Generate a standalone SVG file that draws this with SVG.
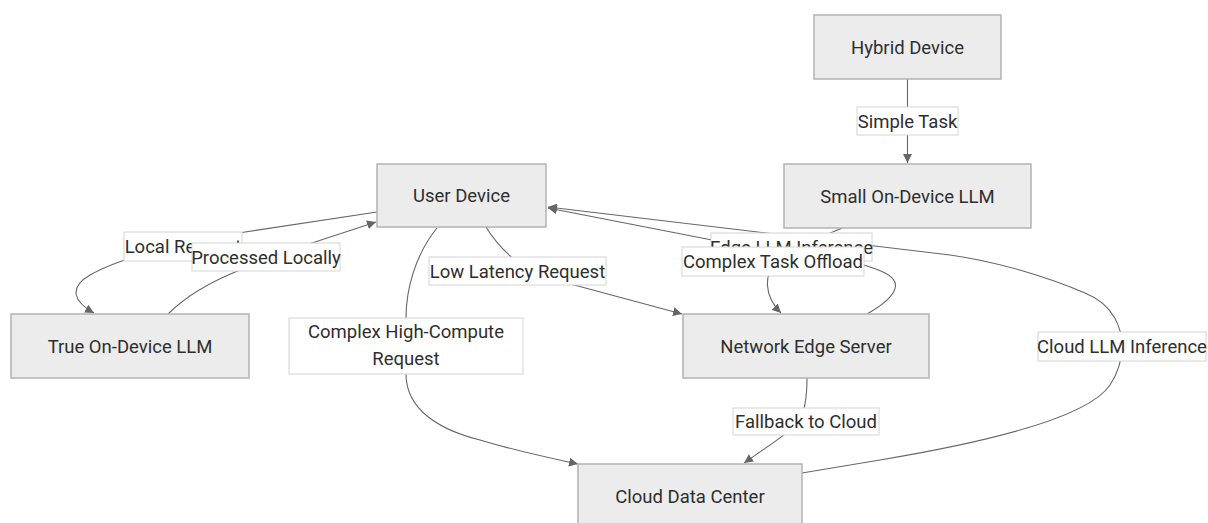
<svg xmlns="http://www.w3.org/2000/svg" width="1208" height="523" viewBox="0 0 1208 523">
<defs>
<style>
.node rect{fill:#ececec;stroke:#b3b3b3;stroke-width:1.5}
.node text,.lbl text{font-family:Roboto,"Liberation Sans",sans-serif;font-size:18.5px;fill:#2e2e2e;text-anchor:middle}
.edge{fill:none;stroke:#666;stroke-width:1.1;marker-end:url(#arr)}
.lbl rect{fill:#fff;stroke:#d4d4d4;stroke-width:1}
</style>
<marker id="arr" viewBox="0 0 10 10" refX="10" refY="5" markerWidth="9" markerHeight="9" markerUnits="userSpaceOnUse" orient="auto">
<path d="M0,0 L10,5 L0,10 z" fill="#666"/>
</marker>
</defs>
<rect width="1208" height="523" fill="#fff"/>
<g id="connectors">
<path class="edge" d="M907.5,79 L907.5,163"/>
<path class="edge" d="M377,212 L245,232 C180,242 120,258 90,275 C68,288 74,302 94,313"/>
<path class="edge" d="M168,314 C185,297 210,282 240,270 C265,260 290,250 315,242 L376,222"/>
<path class="edge" d="M486,227 C495,242 505,252 517,262 C530,272 550,280 578,286 L682,314"/>
<path class="edge" d="M842,228 C820,238 790,248 775,262 C765,275 763,295 781,313"/>
<path class="edge" d="M867,314 C895,298 905,283 885,273 C860,260 800,250 712,240 L548,208"/>
<path class="edge" d="M802,473 L880,460 C1000,440 1090,415 1110,385 C1120,370 1122,355 1122,346 C1122,330 1115,305 1085,293 C1050,278 1000,262 950,255 L548,207"/>
<path class="edge" d="M437,228 C415,255 406,290 406,318 L406,374 C406,410 440,430 480,440 C520,452 550,458 578,464"/>
<path class="edge" d="M807,378 C807,395 805,410 800,420 C793,430 770,445 744,463"/>
</g>
<g id="edge-labels">
<g class="lbl"><rect x="857" y="107" width="101" height="28"/><text x="907.5" y="127.5">Simple Task</text></g>
<g class="lbl"><rect x="124" y="232" width="118" height="29"/><text x="183" y="253">Local Request</text></g>
<g class="lbl"><rect x="192" y="243" width="148" height="28"/><text x="266" y="263.5">Processed Locally</text></g>
<g class="lbl"><rect x="429" y="257" width="177" height="28"/><text x="517.5" y="277.5">Low Latency Request</text></g>
<g class="lbl"><rect x="289" y="318" width="234" height="56"/><text x="406" y="338">Complex High-Compute</text><text x="406" y="365">Request</text></g>
<g class="lbl"><rect x="711" y="233" width="161" height="28"/><text x="791.5" y="253.5">Edge LLM Inference</text></g>
<g class="lbl"><rect x="682" y="247" width="182" height="29"/><text x="773" y="268">Complex Task Offload</text></g>
<g class="lbl"><rect x="1038" y="332" width="168" height="29"/><text x="1122" y="352.5">Cloud LLM Inference</text></g>
<g class="lbl"><rect x="733" y="408" width="146" height="27"/><text x="806" y="428">Fallback to Cloud</text></g>
</g>
<g id="hybrid-device" class="node"><rect x="814" y="15" width="187" height="64"/><text x="907.5" y="53.5">Hybrid Device</text></g>
<g id="small-llm" class="node"><rect x="784" y="164" width="247" height="64"/><text x="907.5" y="202.5">Small On-Device LLM</text></g>
<g id="user-device" class="node"><rect x="377" y="164" width="169" height="63"/><text x="461.5" y="202">User Device</text></g>
<g id="true-llm" class="node"><rect x="11" y="314" width="238" height="64"/><text x="130" y="352.5">True On-Device LLM</text></g>
<g id="edge-server" class="node"><rect x="683" y="314" width="246" height="64"/><text x="806" y="352.5">Network Edge Server</text></g>
<g id="cloud-dc" class="node"><rect x="578" y="464" width="224" height="64"/><text x="690" y="502.5">Cloud Data Center</text></g>
</svg>
